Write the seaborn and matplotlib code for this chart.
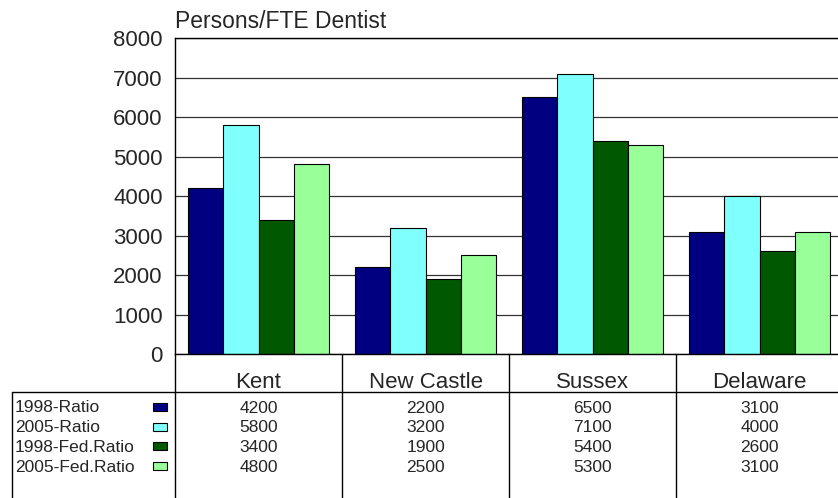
import pandas as pd
import seaborn as sns
import matplotlib.pyplot as plt
from matplotlib.lines import Line2D
from matplotlib.patches import Rectangle

regions = ['Kent', 'New Castle', 'Sussex', 'Delaware']
series = ['1998-Ratio', '2005-Ratio', '1998-Fed.Ratio', '2005-Fed.Ratio']
ratio_1998 = [4200, 2200, 6500, 3100]
ratio_2005 = [5800, 3200, 7100, 4000]
fed_1998 = [3400, 1900, 5400, 2600]
fed_2005 = [4800, 2500, 5300, 3100]
colors = ['#000080', '#80FFFF', '#005800', '#99FF99']


def main():
    values = [ratio_1998, ratio_2005, fed_1998, fed_2005]
    rows = []
    for s, vals in zip(series, values):
        for r, v in zip(regions, vals):
            rows.append({'Region': r, 'Series': s, 'Value': v})
    df = pd.DataFrame(rows)

    sns.set_style('white')
    plt.rcParams['font.family'] = ['Liberation Sans', 'DejaVu Sans']

    W, H = 838, 498
    fig = plt.figure(figsize=(W / 100, H / 100), dpi=100)
    # plot area in pixels: x 175..843, y 38..354
    ax = fig.add_axes([175 / W, (H - 354) / H, 668 / W, 316 / H])

    sns.barplot(data=df, x='Region', y='Value', hue='Series', hue_order=series,
                palette=colors, saturation=1, width=0.84, edgecolor='black',
                linewidth=0.8, legend=False, ax=ax)

    ax.set_xlim(-0.5, 3.5)
    ax.set_ylim(0, 8000)
    ax.set_yticks(range(0, 8001, 1000))
    ax.tick_params(axis='y', labelsize=16, length=0, pad=9)
    ax.set_xticks([])
    ax.set_xlabel('')
    ax.set_ylabel('')
    ax.yaxis.grid(True, color='#333333', linewidth=0.9)
    ax.set_axisbelow(True)
    for sp in ax.spines.values():
        sp.set_color('black')
        sp.set_linewidth(1.0)
    fig.text(175 / W, 1 - 22 / H, 'Persons/FTE Dentist', fontsize=16.5,
             va='center', ha='left')

    # data table below the plot
    xt = ax.get_xaxis_transform()

    def yf(px):
        return (354 - px) / 316

    for i, r in enumerate(regions):
        ax.text(i, yf(382), r, transform=xt, ha='center', va='center',
                fontsize=16, clip_on=False)
        for j, vals in enumerate(values):
            ax.text(i, yf(408 + j * 19.7), str(vals[i]), transform=xt,
                    ha='center', va='center', fontsize=12.5, clip_on=False)
    for b in [-0.5, 0.5, 1.5, 2.5, 3.5]:
        ax.plot([b, b], [0, yf(H + 5)], transform=xt, color='black',
                linewidth=1.0, clip_on=False)

    # header line and left legend box
    fig.add_artist(Line2D([12 / W, 1], [1 - 392 / H] * 2, color='black',
                          linewidth=1.0, transform=fig.transFigure))
    fig.add_artist(Line2D([12 / W, 12 / W], [1 - 392 / H, 0], color='black',
                          linewidth=1.0, transform=fig.transFigure))
    for j, s in enumerate(series):
        y = 408 + j * 19.7
        fig.text(15 / W, 1 - y / H, s, fontsize=12.5, ha='left', va='center')
        fig.add_artist(Rectangle((153 / W, 1 - (y + 3) / H), 14 / W, 8 / H,
                                 facecolor=colors[j], edgecolor='black',
                                 linewidth=0.8, transform=fig.transFigure))

    fig.savefig('out.png', dpi=100)
    plt.close(fig)


if __name__ == '__main__':
    main()
